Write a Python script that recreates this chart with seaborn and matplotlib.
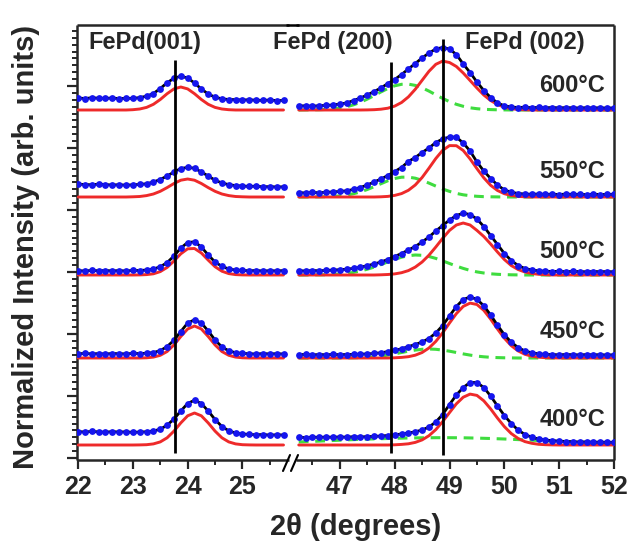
import matplotlib
matplotlib.use("Agg")
import matplotlib.pyplot as plt
import seaborn as sns
from matplotlib.lines import Line2D

sns.set_style("ticks")
plt.rcParams['font.family'] = ['Liberation Sans', 'DejaVu Sans']
plt.rcParams['font.weight'] = 'bold'

# ---------------- data (arb. units) ----------------
temps = ["600°C", "550°C", "500°C", "450°C", "400°C"]
offsets = [350, 263, 185, 102, 15]

x_left = [22.0, 22.125, 22.25, 22.375, 22.5, 22.625, 22.75, 22.875, 23.0, 23.125,
          23.25, 23.375, 23.5, 23.625, 23.75, 23.875, 24.0, 24.125, 24.25, 24.375,
          24.5, 24.625, 24.75, 24.875, 25.0, 25.125, 25.25, 25.375, 25.5, 25.625, 25.75]

x_right = [46.25, 46.375, 46.5, 46.625, 46.75, 46.875, 47.0, 47.125, 47.25, 47.375,
           47.5, 47.625, 47.75, 47.875, 48.0, 48.125, 48.25, 48.375, 48.5, 48.625,
           48.75, 48.875, 49.0, 49.125, 49.25, 49.375, 49.5, 49.625, 49.75, 49.875,
           50.0, 50.125, 50.25, 50.375, 50.5, 50.625, 50.75, 50.875, 51.0, 51.125,
           51.25, 51.375, 51.5, 51.625, 51.75, 51.875, 52.0]

# FePd(001) region: measured data
obs_left_600 = [12.0, 11.5, 12.2, 11.8, 11.6, 12.0, 11.4, 11.7, 11.6, 12.4, 13.8, 16.5, 21.5, 27.2, 31.8, 33.8,
                32.0, 27.0, 21.0, 16.0, 12.8, 11.2, 10.5, 10.4, 10.0, 10.2, 9.8, 9.6, 10.0, 9.4, 9.6]
obs_left_550 = [12.8, 12.5, 12.2, 12.9, 12.4, 12.0, 12.3, 11.8, 12.2, 12.6, 13.2, 15.0, 17.5, 21.0, 25.0, 28.5,
                29.6, 28.8, 25.0, 21.0, 16.8, 14.0, 12.4, 11.4, 11.0, 10.6, 10.8, 10.2, 10.4, 10.0, 10.2]
obs_left_500 = [4.4, 4.0, 4.6, 4.2, 4.5, 4.1, 4.4, 4.0, 4.6, 4.5, 5.0, 6.0, 8.2, 12.4, 19.0, 27.0,
                32.5, 33.2, 28.0, 20.0, 13.0, 8.6, 6.0, 5.0, 4.6, 4.2, 4.5, 4.0, 4.3, 4.1, 4.4]
obs_left_450 = [4.2, 4.6, 4.1, 4.4, 4.0, 4.5, 4.3, 4.1, 4.6, 4.4, 4.8, 5.4, 7.4, 11.4, 17.8, 26.5,
                35.0, 38.2, 35.0, 27.0, 18.0, 11.0, 7.2, 5.3, 4.6, 4.3, 4.0, 4.4, 4.1, 4.3, 4.0]
obs_left_400 = [13.4, 13.0, 13.6, 13.1, 12.8, 13.4, 12.9, 13.2, 12.6, 13.0, 13.2, 14.0, 15.8, 19.8, 26.0, 34.0,
                41.5, 44.8, 41.5, 34.0, 25.5, 18.5, 14.2, 12.0, 11.0, 10.6, 10.2, 10.5, 9.9, 10.2, 10.0]

# FePd(001) region: fitted peak (red)
red_left_600 = [0, 0, 0, 0, 0, 0, 0, 0, 0.3, 1.0, 2.6, 5.7, 10.5, 16.3, 21.1, 23.0,
                21.1, 16.3, 10.5, 5.7, 2.6, 1.0, 0.3, 0, 0, 0, 0, 0, 0, 0, 0]
red_left_550 = [0, 0, 0, 0, 0, 0, 0, 0, 0.2, 0.5, 1.4, 3.0, 5.7, 9.4, 13.5, 16.8,
                18.0, 16.8, 13.5, 9.4, 5.7, 3.0, 1.4, 0.5, 0.2, 0, 0, 0, 0, 0, 0]
red_left_500 = [0, 0, 0, 0, 0, 0, 0, 0, 0, 0.1, 0.4, 1.2, 3.4, 7.6, 14.0, 21.2,
                26.2, 26.5, 22.0, 14.9, 8.3, 3.8, 1.4, 0.4, 0.1, 0, 0, 0, 0, 0, 0]
red_left_450 = [0, 0, 0, 0, 0, 0, 0, 0, 0, 0, 0.2, 0.9, 2.7, 6.5, 13.1, 21.5,
                29.0, 32.0, 29.0, 21.5, 13.1, 6.5, 2.7, 0.9, 0.2, 0, 0, 0, 0, 0, 0]
red_left_400 = [0, 0, 0, 0, 0, 0, 0, 0, 0, 0.1, 0.3, 1.1, 3.1, 7.2, 13.9, 22.1,
                29.2, 32.0, 29.2, 22.1, 13.9, 7.2, 3.1, 1.1, 0.3, 0.1, 0, 0, 0, 0, 0]

# FePd(200)/(002) region: measured data
obs_right_600 = [4.0, 4.2, 3.8, 4.3, 4.6, 5.0, 6.0, 7.0, 9.5, 12.0,
                 15.0, 18.5, 22.0, 26.5, 30.5, 35.5, 41.0, 46.5, 52.0, 57.0,
                 61.0, 62.5, 61.0, 55.5, 46.0, 37.5, 28.0, 19.5, 12.5, 7.0,
                 4.2, 3.0, 2.5, 2.8, 2.3, 2.6, 2.2, 2.5, 2.1, 2.4,
                 2.2, 2.0, 2.3, 2.1, 2.2, 1.9, 2.1]
obs_right_550 = [4.4, 4.0, 4.6, 4.2, 4.8, 5.0, 5.6, 6.2, 7.6, 9.5,
                 12.0, 15.0, 18.0, 21.5, 25.5, 29.5, 35.5, 39.5, 44.5, 49.0,
                 54.5, 58.0, 60.0, 59.8, 54.0, 46.0, 35.0, 26.0, 18.5, 12.0,
                 7.0, 4.8, 3.5, 3.0, 2.7, 3.0, 2.6, 2.8, 2.5, 2.9,
                 2.6, 2.7, 2.4, 2.8, 2.5, 2.6, 2.7]
obs_right_500 = [4.3, 4.0, 4.5, 4.2, 4.6, 4.9, 5.3, 5.8, 6.6, 7.8,
                 9.3, 11.0, 13.0, 15.5, 18.5, 21.5, 25.0, 28.5, 33.0, 38.0,
                 44.0, 49.5, 55.0, 59.5, 61.8, 60.5, 56.0, 48.5, 39.5, 30.5,
                 21.5, 14.5, 9.5, 6.5, 5.0, 4.2, 3.8, 3.5, 3.7, 3.3,
                 3.6, 3.4, 3.2, 3.5, 3.3, 3.4, 3.2]
obs_right_450 = [3.3, 3.6, 3.1, 3.5, 3.2, 3.6, 3.3, 3.5, 3.6, 3.9,
                 4.0, 4.6, 5.2, 6.4, 7.6, 9.2, 11.4, 13.5, 16.0, 19.5,
                 25.0, 32.5, 42.0, 51.5, 58.5, 61.0, 58.7, 52.2, 43.0, 32.7,
                 23.3, 15.8, 10.5, 7.0, 5.2, 4.2, 3.6, 3.4, 3.2, 3.5,
                 3.3, 3.1, 3.4, 3.2, 3.3, 3.0, 3.2]
obs_right_400 = [7.7, 7.4, 7.9, 7.6, 8.0, 7.7, 8.1, 7.8, 8.3, 8.0,
                 8.4, 8.6, 9.0, 9.5, 10.2, 11.0, 12.0, 13.2, 15.0, 18.0,
                 23.0, 30.5, 40.5, 50.0, 57.5, 62.5, 62.5, 57.5, 49.0, 39.0,
                 29.5, 21.5, 15.0, 10.5, 7.8, 6.0, 5.0, 4.3, 3.9, 3.5,
                 3.3, 3.0, 3.1, 2.8, 2.9, 2.7, 2.7]

# FePd(002) fitted peak (red)
red_right_600 = [0, 0, 0, 0, 0, 0, 0, 0, 0, 0,
                 0.1, 0.3, 0.8, 1.8, 3.9, 7.5, 13.1, 20.7, 29.7, 38.7,
                 45.7, 48.9, 47.5, 43.5, 37.0, 29.5, 22.0, 15.0, 9.5, 5.5,
                 2.8, 1.3, 0.5, 0.2, 0, 0, 0, 0, 0, 0,
                 0, 0, 0, 0, 0, 0, 0]
red_right_550 = [0, 0, 0, 0, 0, 0, 0, 0, 0, 0,
                 0, 0, 0.2, 0.6, 1.6, 3.4, 6.7, 12.0, 19.5, 28.8,
                 38.5, 46.7, 51.4, 51.3, 46.5, 38.1, 28.4, 19.2, 11.7, 6.5,
                 3.3, 1.5, 0.6, 0.2, 0, 0, 0, 0, 0, 0,
                 0, 0, 0, 0, 0, 0, 0]
red_right_500 = [0, 0, 0, 0, 0, 0, 0, 0, 0, 0,
                 0, 0, 0.2, 0.5, 1.1, 2.3, 4.4, 7.9, 13.0, 19.8,
                 28.0, 36.7, 44.6, 50.0, 52.0, 50.0, 44.6, 38.5, 31.0, 23.0,
                 15.5, 9.5, 5.5, 3.0, 1.5, 0.7, 0.3, 0, 0, 0,
                 0, 0, 0, 0, 0, 0, 0]
red_right_450 = [0, 0, 0, 0, 0, 0, 0, 0, 0, 0,
                 0, 0, 0, 0, 0.2, 0.6, 1.3, 2.8, 5.5, 10.0,
                 16.6, 25.2, 35.0, 44.4, 51.6, 54.9, 53.5, 47.7, 38.9, 29.0,
                 19.8, 12.4, 7.1, 3.7, 1.8, 0.8, 0.3, 0.1, 0, 0,
                 0, 0, 0, 0, 0, 0, 0]
red_right_400 = [0, 0, 0, 0, 0, 0, 0, 0, 0, 0,
                 0, 0, 0, 0, 0.2, 0.6, 1.2, 2.6, 5.1, 9.3,
                 15.4, 23.4, 32.4, 41.2, 47.8, 50.9, 49.6, 44.2, 36.1, 26.9,
                 18.4, 11.5, 6.6, 3.4, 1.7, 0.7, 0.3, 0.1, 0, 0,
                 0, 0, 0, 0, 0, 0, 0]

# FePd(200) fitted peak (green dashed)
green_right_600 = [0, 0.1, 0.2, 0.3, 0.6, 1.1, 2.0, 3.3, 5.2, 7.7,
                   10.9, 14.4, 18.1, 21.5, 24.2, 25.7, 25.9, 24.6, 22.2, 18.9,
                   15.2, 11.6, 8.3, 5.7, 3.7, 2.2, 1.3, 0.7, 0.4, 0.2,
                   0.1, 0, 0, 0, 0, 0, 0, 0, 0, 0,
                   0, 0, 0, 0, 0, 0, 0]
green_right_550 = [0, 0, 0.1, 0.15, 0.3, 0.6, 1.1, 2.0, 3.3, 5.1,
                   7.5, 10.3, 13.3, 16.2, 18.5, 19.8, 19.9, 18.8, 16.7, 13.9,
                   10.9, 8.0, 5.6, 3.6, 2.2, 1.3, 0.7, 0.35, 0.2, 0.1,
                   0, 0, 0, 0, 0, 0, 0, 0, 0, 0,
                   0, 0, 0, 0, 0, 0, 0]
green_right_500 = [0, 0.05, 0.1, 0.2, 0.3, 0.6, 1.0, 1.6, 2.6, 4.0,
                   5.8, 7.9, 10.4, 13.1, 15.6, 17.8, 19.3, 20.0, 19.7, 18.5,
                   16.6, 14.1, 11.5, 8.9, 6.6, 4.6, 3.1, 2.0, 1.2, 0.7,
                   0.4, 0.2, 0.1, 0, 0, 0, 0, 0, 0, 0,
                   0, 0, 0, 0, 0, 0, 0]
green_right_450 = [0, 0, 0, 0, 0, 0, 0, 0.1, 0.2, 0.4,
                   0.7, 1.2, 1.9, 2.9, 4.1, 5.5, 6.8, 7.9, 8.7, 9.0,
                   8.7, 7.9, 6.8, 5.5, 4.1, 2.9, 1.9, 1.2, 0.7, 0.4,
                   0.2, 0.1, 0, 0, 0, 0, 0, 0, 0, 0,
                   0, 0, 0, 0, 0, 0, 0]
green_right_400 = [3.0, 3.3, 3.6, 3.9, 4.2, 4.5, 4.8, 5.1, 5.4, 5.65,
                   5.9, 6.1, 6.3, 6.5, 6.7, 6.85, 7.0, 7.1, 7.2, 7.25,
                   7.3, 7.3, 7.3, 7.25, 7.2, 7.05, 6.9, 6.7, 6.5, 6.25,
                   6.0, 5.7, 5.4, 5.1, 4.8, 4.5, 4.2, 3.9, 3.6, 3.3,
                   3.0, 2.75, 2.5, 2.3, 2.1, 1.9, 1.7]

obs_left = [obs_left_600, obs_left_550, obs_left_500, obs_left_450, obs_left_400]
red_left = [red_left_600, red_left_550, red_left_500, red_left_450, red_left_400]
obs_right = [obs_right_600, obs_right_550, obs_right_500, obs_right_450, obs_right_400]
red_right = [red_right_600, red_right_550, red_right_500, red_right_450, red_right_400]
green_right = [green_right_600, green_right_550, green_right_500, green_right_450, green_right_400]

# reference peak positions (vertical lines)
ref_left = [23.76]
ref_right = [47.94, 48.88]
peak_labels = ["FePd(001)", "FePd (200)", "FePd (002)"]
xticks_left = [22, 23, 24, 25]
xticks_right = [47, 48, 49, 50, 51, 52]

# ---------------- styling ----------------
RED = "#ee2a2a"
GREEN = "#3fdc3f"
BLUE = "#1515ee"
W, H = 634, 548


def fx(px):
    return px / W


def fy(py):
    return 1 - py / H


fig = plt.figure(figsize=(W / 100, H / 100), dpi=100)
ax1 = fig.add_axes([fx(77), fy(460), (289 - 77) / W, (460 - 25) / H])
ax2 = fig.add_axes([fx(296), fy(460), (614 - 296) / W, (460 - 25) / H])

for k in range(len(temps)):
    off = offsets[k]
    # left panel
    sns.lineplot(x=x_left, y=[off + v for v in red_left[k]], ax=ax1, color=RED,
                 lw=2.1, zorder=3, errorbar=None)
    sns.lineplot(x=x_left, y=[off + v for v in obs_left[k]], ax=ax1, color="black",
                 lw=2.0, zorder=4, errorbar=None)
    sns.scatterplot(x=x_left, y=[off + v for v in obs_left[k]], ax=ax1, color=BLUE,
                    s=24, linewidth=0, zorder=5)
    # right panel
    sns.lineplot(x=x_right, y=[off + v for v in green_right[k]], ax=ax2, color=GREEN,
                 lw=2.2, linestyle=(0, (3.2, 2.2)), zorder=2, errorbar=None)
    sns.lineplot(x=x_right, y=[off + v for v in red_right[k]], ax=ax2, color=RED,
                 lw=2.1, zorder=3, errorbar=None)
    sns.lineplot(x=x_right, y=[off + v for v in obs_right[k]], ax=ax2, color="black",
                 lw=2.0, zorder=4, errorbar=None)
    sns.scatterplot(x=x_right, y=[off + v for v in obs_right[k]], ax=ax2, color=BLUE,
                    s=24, linewidth=0, zorder=5)
    ax2.text(51.84, [374, 288, 208, 128, 40][k], temps[k], ha="right", va="center",
             fontsize=17, fontweight="bold")

# reference lines
ax1.vlines(ref_left[0], 7, 400, color="black", lw=2.0, zorder=6)
ax2.vlines(ref_right[0], 7, 398, color="black", lw=2.0, zorder=6)
ax2.vlines(ref_right[1], 5, 421, color="black", lw=2.0, zorder=6)

# peak labels
ax1.text(22.18, 417, peak_labels[0], ha="left", va="center", fontsize=17, fontweight="bold")
ax2.text(46.87, 417, peak_labels[1], ha="center", va="center", fontsize=17,
         fontweight="bold", clip_on=False)
ax2.text(50.38, 417, peak_labels[2], ha="center", va="center", fontsize=17, fontweight="bold")

# axes setup
ax1.set_xlim(21.98, 25.85)
ax2.set_xlim(46.2, 52.0)
for ax in (ax1, ax2):
    ax.set_ylim(0, 435)
    ax.set_xlabel("")
    ax.set_ylabel("")
    for sp in ax.spines.values():
        sp.set_linewidth(1.8)
        sp.set_capstyle("butt")
ax1.spines["right"].set_visible(False)
ax2.spines["left"].set_visible(False)

ax1.set_xticks(xticks_left)
ax1.set_xticks([22.5, 23.5, 24.5, 25.5], minor=True)
ax2.set_xticks(xticks_right)
ax2.set_xticks([46.5, 47.5, 48.5, 49.5, 50.5, 51.5], minor=True)
ax1.set_xticklabels([str(t) for t in xticks_left])
ax2.set_xticklabels([str(t) for t in xticks_right])

ax1.set_yticks([2 + 62 * i for i in range(7)])
ax1.set_yticks([2 + 62 / 9 * i for i in range(63) if 2 + 62 / 9 * i < 435], minor=True)
ax1.tick_params(axis="y", which="major", direction="out", length=7, width=1.6,
                left=True, right=False, labelleft=False)
ax1.tick_params(axis="y", which="minor", direction="out", length=3.8, width=1.4,
                left=True, right=False)
ax2.tick_params(axis="y", which="both", left=False, right=False, labelleft=False)
for ax in (ax1, ax2):
    ax.tick_params(axis="x", which="major", direction="out", length=6.5, width=1.6,
                   labelsize=18, pad=4)
    ax.tick_params(axis="x", which="minor", direction="out", length=3.8, width=1.4)
    for lab in ax.get_xticklabels():
        lab.set_fontweight("bold")

# continuous top border and axis-break marks
fig.add_artist(Line2D([fx(286), fx(299)], [fy(25), fy(25)], color="black", lw=1.8,
                      solid_capstyle="butt"))
fig.add_artist(Line2D([fx(283), fx(290)], [fy(471), fy(455)], color="black", lw=1.5))
fig.add_artist(Line2D([fx(291), fx(298)], [fy(471), fy(455)], color="black", lw=1.5))

fig.text(fx(26), fy(247), "Normalized Intensity (arb. units)", rotation=90,
         ha="center", va="center", fontsize=21, fontweight="bold")
fig.text(fx(356), fy(527), "2θ (degrees)", ha="center", va="center",
         fontsize=21, fontweight="bold")

fig.savefig("out.png", dpi=100)
